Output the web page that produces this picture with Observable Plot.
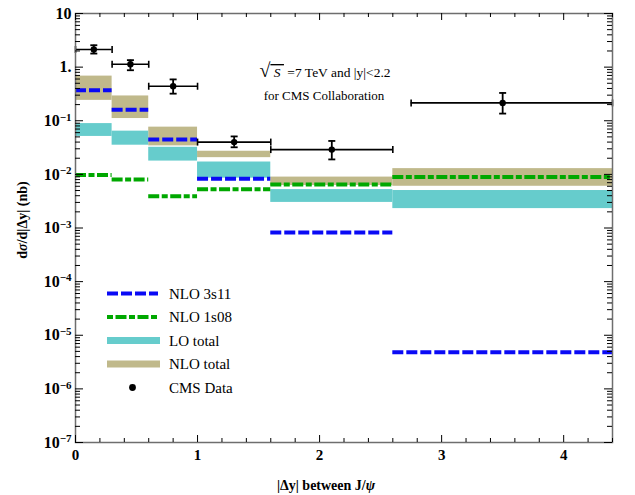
<!DOCTYPE html>
<html><head><meta charset="utf-8">
<script src="https://cdn.jsdelivr.net/npm/d3@7"></script>
<script src="https://cdn.jsdelivr.net/npm/@observablehq/plot@0.6"></script>
<style>
body{margin:0;background:#fff}
#chart{position:relative;width:635px;height:495px}
</style>
</head><body><div id="chart"></div>
<script>
// ---- data ----
const binLo   = [0, 0.3, 0.6, 1.0, 1.6, 2.6];
const binHi   = [0.3, 0.6, 1.0, 1.6, 2.6, 4.4];
const nlo3s11 = [0.37, 0.16, 0.0445, 0.0083, 0.00082, 4.8e-6];
const nlo1s08 = [0.0097, 0.0080, 0.0039, 0.0053, 0.0065, 0.0089];
const loLow   = [0.051, 0.035, 0.0177, 0.0085, 0.0030, 0.0023];
const loHigh  = [0.0885, 0.064, 0.032, 0.017, 0.0052, 0.0050];
const nloLow  = [0.24, 0.11, 0.034, 0.0205, 0.0062, 0.0060];
const nloHigh = [0.68, 0.29, 0.076, 0.027, 0.0089, 0.0128];
const cmsX    = [0.15, 0.45, 0.8, 1.3, 2.1, 3.5];
const cmsXLo  = [0, 0.3, 0.6, 1.0, 1.6, 2.75];
const cmsXHi  = [0.3, 0.6, 1.0, 1.6, 2.6, 4.4];
const cmsY    = [2.13, 1.13, 0.44, 0.040, 0.029, 0.215];
const cmsYLo  = [1.79, 0.875, 0.32, 0.032, 0.019, 0.136];
const cmsYHi  = [2.56, 1.35, 0.59, 0.051, 0.042, 0.33];
const xTicks  = [0, 1, 2, 3, 4];
const xTickLabels = ["0", "1", "2", "3", "4"];
const yTicks  = [1e-7, 1e-6, 1e-5, 1e-4, 1e-3, 1e-2, 1e-1, 1, 10];
const yTickLabels = ["10^−7", "10^−6", "10^−5", "10^−4", "10^−3", "10^−2", "10^−1", "1.", "10"];
const legendLabels = ["NLO 3s11", "NLO 1s08", "LO total", "NLO total", "CMS Data"];

// ---- derived tables ----
const bins = binLo.map((lo, i) => ({lo, hi: binHi[i], s3: nlo3s11[i], s1: nlo1s08[i],
  loL: loLow[i], loH: loHigh[i], nL: nloLow[i], nH: nloHigh[i]}));
const cms = cmsX.map((x, i) => ({x, xl: cmsXLo[i], xh: cmsXHi[i], y: cmsY[i], yl: cmsYLo[i], yh: cmsYHi[i]}));
const xMinor = d3.range(1, 23).map(k => k * 0.2).filter(v => Math.abs(v - Math.round(v)) > 1e-6);
const yMinor = [];
for (let e = -7; e < 1; e++) for (let m = 2; m <= 9; m++) yMinor.push(m * Math.pow(10, e));

const W = 635, H = 495, mL = 75, mR = 23, mT = 13, mB = 53;
const iW = W - mL - mR, iH = H - mT - mB;
const BLUE = "#0a0af5", GREEN = "#00a800", CYAN = "#66cccc", TAN = "#c0b98b";
const blueDash = "11,3", greenDash = "11,2.5,6,2.5";
const FONT = "'Liberation Serif', 'Times New Roman', serif";

const capSym = (horizontal) => ({draw(ctx, size) {
  const r = Math.sqrt(size / Math.PI);
  if (horizontal) { ctx.moveTo(-r, 0); ctx.lineTo(r, 0); }
  else { ctx.moveTo(0, -r); ctx.lineTo(0, r); }
}});

const plot = Plot.plot({
  width: W, height: H, marginLeft: mL, marginRight: mR, marginTop: mT, marginBottom: mB,
  style: {fontFamily: FONT, fontSize: "15px", background: "white", color: "black"},
  x: {domain: [0, 4.4], axis: null},
  y: {type: "log", domain: [1e-7, 10], axis: null},
  marks: [
    Plot.rect(bins, {x1: "lo", x2: "hi", y1: "nL", y2: "nH", fill: TAN}),
    Plot.rect(bins, {x1: "lo", x2: "hi", y1: "loL", y2: "loH", fill: CYAN}),
    Plot.ruleY(bins, {y: "s3", x1: "lo", x2: "hi", stroke: BLUE, strokeWidth: 4, strokeDasharray: blueDash}),
    Plot.ruleY(bins, {y: "s1", x1: "lo", x2: "hi", stroke: GREEN, strokeWidth: 4, strokeDasharray: greenDash}),
    // CMS data with error bars
    Plot.ruleY(cms, {y: "y", x1: "xl", x2: "xh", stroke: "black", strokeWidth: 1.6}),
    Plot.ruleX(cms, {x: "x", y1: "yl", y2: "yh", stroke: "black", strokeWidth: 1.8}),
    Plot.dot(cms, {x: "x", y: "yl", r: 3.5, symbol: capSym(true), stroke: "black", fill: "none", strokeWidth: 1.8}),
    Plot.dot(cms, {x: "x", y: "yh", r: 3.5, symbol: capSym(true), stroke: "black", fill: "none", strokeWidth: 1.8}),
    Plot.dot(cms, {x: "xl", y: "y", r: 3.5, symbol: capSym(false), stroke: "black", fill: "none", strokeWidth: 1.6}),
    Plot.dot(cms, {x: "xh", y: "y", r: 3.5, symbol: capSym(false), stroke: "black", fill: "none", strokeWidth: 1.6}),
    Plot.dot(cms, {x: "x", y: "y", r: 3.2, fill: "black", stroke: "none"}),
    // frame
    Plot.frame({stroke: "#6e6e6e", strokeWidth: 1.5}),
    // inward ticks
    Plot.tickX(xTicks, {x: d => d, insetTop: iH - 7, stroke: "black"}),
    Plot.tickX(xTicks, {x: d => d, insetBottom: iH - 7, stroke: "black"}),
    Plot.tickX(xMinor, {x: d => d, insetTop: iH - 4, stroke: "black"}),
    Plot.tickX(xMinor, {x: d => d, insetBottom: iH - 4, stroke: "black"}),
    Plot.tickY(yTicks, {y: d => d, insetRight: iW - 8, stroke: "black"}),
    Plot.tickY(yTicks, {y: d => d, insetLeft: iW - 8, stroke: "black"}),
    Plot.tickY(yMinor, {y: d => d, insetRight: iW - 5, stroke: "black"}),
    Plot.tickY(yMinor, {y: d => d, insetLeft: iW - 5, stroke: "black"}),
    // tick labels
    Plot.text(xTicks, {x: d => d, frameAnchor: "bottom", lineAnchor: "top", dy: 7,
      text: (d, i) => xTickLabels[i], fontWeight: "bold", fontSize: 15, fill: "black"}),
    Plot.text(yTicks, {y: d => d, frameAnchor: "left", textAnchor: "end", dx: -4,
      text: (d, i) => yTickLabels[i], fontWeight: "bold", fontSize: 16, fill: "black"})
  ]
});

document.getElementById("chart").appendChild(plot);
const svg = d3.select(plot);

// superscripts on y tick labels
svg.selectAll("text").each(function() {
  const t = this.textContent;
  if (t.includes("^")) {
    const [base, exp] = t.split("^");
    const el = d3.select(this);
    el.text(base);
    el.append("tspan").attr("dy", "-0.48em").attr("font-size", "11px").text(exp);
  }
});

// axis titles
const yl = svg.append("text").attr("transform", "translate(27,220) rotate(-90)")
  .attr("text-anchor", "middle").attr("font-weight", "bold").attr("font-size", 14).attr("fill", "black");
yl.append("tspan").text("d");
yl.append("tspan").attr("font-style", "italic").text("σ");
yl.append("tspan").text("/d|Δy| (nb)");

const xl = svg.append("text").attr("x", 326).attr("y", 490)
  .attr("text-anchor", "middle").attr("font-weight", "bold").attr("font-size", 14).attr("fill", "black");
xl.append("tspan").text("|Δy| between J/");
xl.append("tspan").attr("font-style", "italic").text("ψ");

// annotation
const a1 = svg.append("text").attr("x", 325).attr("y", 77).attr("text-anchor", "middle")
  .attr("font-size", 13.5).attr("fill", "black");
a1.append("tspan").attr("font-size", 20).text("√");
a1.append("tspan").attr("font-style", "italic").attr("style", "text-decoration: overline").text(" S ");
a1.append("tspan").text(" =7 TeV and |y|<2.2");
svg.append("text").attr("x", 324).attr("y", 100).attr("text-anchor", "middle")
  .attr("font-size", 13).attr("fill", "black").text("for CMS Collaboration");

// legend
const lg = svg.append("g").attr("text-anchor", "start");
const ly = [293.5, 317, 340.5, 364, 387.5];
const sx1 = 107, sx2 = 158;
lg.append("line").attr("x1", sx1).attr("x2", sx2).attr("y1", ly[0]).attr("y2", ly[0])
  .attr("stroke", BLUE).attr("stroke-width", 4).attr("stroke-dasharray", blueDash);
lg.append("line").attr("x1", sx1).attr("x2", sx2).attr("y1", ly[1]).attr("y2", ly[1])
  .attr("stroke", GREEN).attr("stroke-width", 4).attr("stroke-dasharray", "6,2.5,11,2.5");
lg.append("line").attr("x1", sx1).attr("x2", sx2 + 2).attr("y1", ly[2]).attr("y2", ly[2])
  .attr("stroke", CYAN).attr("stroke-width", 7);
lg.append("line").attr("x1", sx1).attr("x2", sx2 + 2).attr("y1", ly[3]).attr("y2", ly[3])
  .attr("stroke", TAN).attr("stroke-width", 7);
lg.append("circle").attr("cx", 132.5).attr("cy", ly[4]).attr("r", 3.4).attr("fill", "black");
legendLabels.forEach((s, i) => {
  lg.append("text").attr("x", 169).attr("y", ly[i]).attr("dy", "0.35em").attr("text-anchor", "start")
    .attr("font-size", 15).attr("fill", "black").text(s);
});
</script>
</body></html>
